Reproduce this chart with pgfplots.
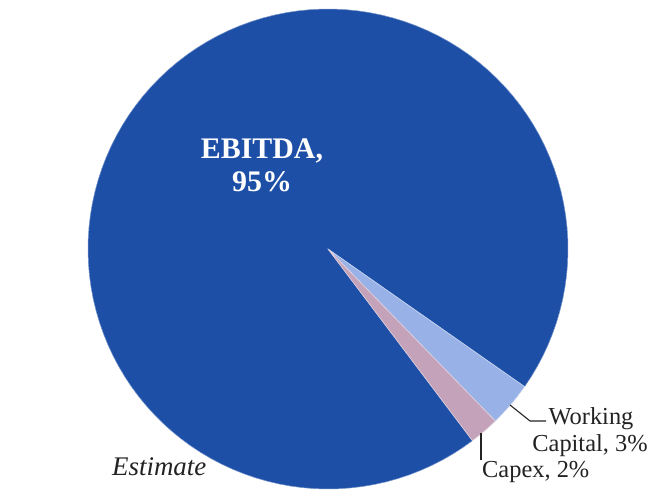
\documentclass[border=0pt]{standalone}
\usepackage{fontspec}
\setmainfont{Liberation Serif}
\usepackage{pgfplots}
\usepackage{pgfplotstable}
\pgfplotsset{compat=1.18}
\definecolor{ebitdac}{HTML}{1D4FA7}
\definecolor{wcc}{HTML}{98B1E6}
\definecolor{capexc}{HTML}{C4A3BA}
\definecolor{txt}{HTML}{222222}
\pgfplotstableread{
label value
Capex 2
WorkingCapital 3
EBITDA 95
}\piedata
\begin{document}
\begin{tikzpicture}
\pgfplotstablegetelem{0}{value}\of\piedata \let\vCapex\pgfplotsretval
\pgfplotstablegetelem{1}{value}\of\piedata \let\vWC\pgfplotsretval
\pgfplotstablegetelem{2}{value}\of\piedata \let\vEB\pgfplotsretval
\pgfmathsetmacro{\aA}{-53}
\pgfmathsetmacro{\aB}{\aA+3.6*\vCapex}
\pgfmathsetmacro{\aC}{\aB+3.6*\vWC}
\pgfmathsetmacro{\aD}{\aC+3.6*\vEB}
\begin{axis}[
  scale only axis, width=658bp, height=493bp,
  xmin=0, xmax=658, ymin=0, ymax=493,
  hide axis, clip=false,
]
\addplot[draw=none, forget plot] coordinates {(0,0) (658,493)};
% EBITDA
\addplot[fill=ebitdac, draw=ebitdac!60!white, line width=0.5pt, domain=\aC:\aD, samples=120, variable=\t]
  ({328+240*cos(\t)}, {244+240*sin(\t)}) -- (328,244) -- cycle;
% Working capital
\addplot[fill=wcc, draw=wcc!50!white, line width=0.6pt, domain=\aB:\aC, samples=20, variable=\t]
  ({328+240*cos(\t)}, {244+240*sin(\t)}) -- (328,244) -- cycle;
% Capex
\addplot[fill=capexc, draw=capexc!50!white, line width=0.6pt, domain=\aA:\aB, samples=20, variable=\t]
  ({328+240*cos(\t)}, {244+240*sin(\t)}) -- (328,244) -- cycle;
% leader lines
\addplot[txt, line width=1.1pt] coordinates {(510,88) (530,72) (546,72)};
\addplot[txt, line width=1.1pt] coordinates {(481,60) (481,33)};
% labels
\node[anchor=base, inner sep=0pt, text=white, font=\bfseries\fontsize{30}{36}\selectfont] at (axis cs:262,334) {EBITDA,};
\node[anchor=base, inner sep=0pt, text=white, font=\bfseries\fontsize{30}{36}\selectfont] at (axis cs:262,301) {95\%};
\node[anchor=base, inner sep=0pt, text=txt, font=\fontsize{24.5}{29}\selectfont] at (axis cs:591,68) {Working};
\node[anchor=base, inner sep=0pt, text=txt, font=\fontsize{24.5}{29}\selectfont] at (axis cs:590,41) {Capital, 3\%};
\node[anchor=base west, inner sep=0pt, text=txt, font=\fontsize{24.5}{29}\selectfont] at (axis cs:482,16) {Capex, 2\%};
\node[anchor=base west, inner sep=0pt, text=txt, font=\itshape\fontsize{27}{32}\selectfont] at (axis cs:112,18) {Estimate};
\end{axis}
\end{tikzpicture}
\end{document}
